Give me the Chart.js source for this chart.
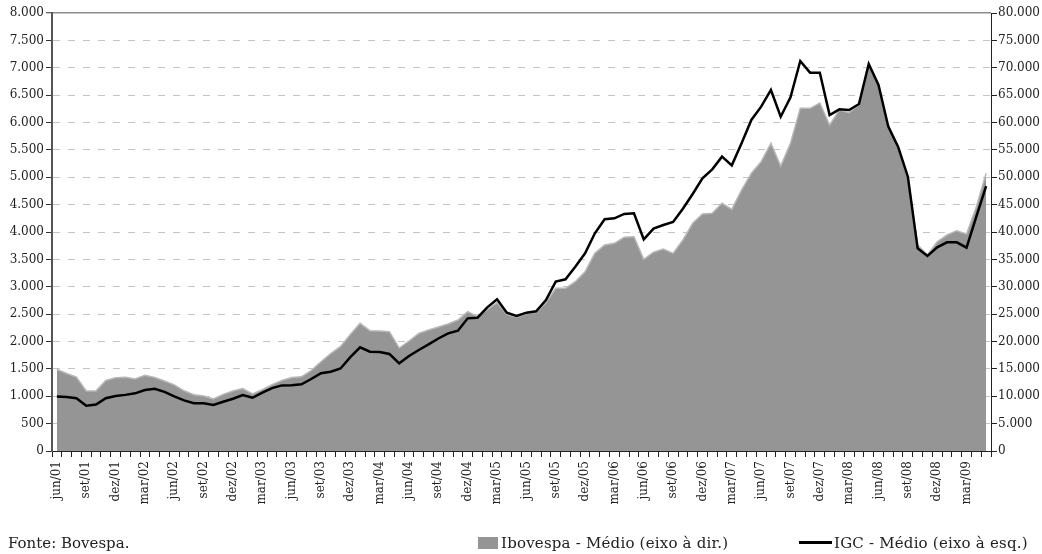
<!DOCTYPE html>
<html><head><meta charset="utf-8">
<script src="https://cdn.jsdelivr.net/npm/chart.js@4.4.1/dist/chart.umd.min.js"></script>
<style>
html,body{margin:0;padding:0;background:#fff;}
#wrap{position:relative;width:1042px;height:554px;overflow:hidden;}
canvas{position:absolute;left:0;top:0;}
.note{position:absolute;font-family:"DejaVu Serif";font-size:15px;color:#222;line-height:18px;white-space:nowrap;letter-spacing:0.2px;}
</style></head><body>
<div id="wrap">
<canvas id="c" width="1042" height="554"></canvas>
<div class="note" style="left:8px;top:534px;letter-spacing:0;">Fonte: Bovespa.</div>
<div class="note" style="left:478px;top:534px;"><span style="display:inline-block;width:20px;height:12px;background:#959595;vertical-align:-1px;margin-right:3px"></span>Ibovespa - Médio (eixo à dir.)</div>
<div class="note" style="left:799px;top:534px;"><span style="display:inline-block;width:33px;height:3px;background:#000;vertical-align:4px;margin-right:2px"></span>IGC - Médio (eixo à esq.)</div>
</div>
<script>
const categories = [
 'jun/01','jul/01','ago/01','set/01','out/01','nov/01','dez/01',
 'jan/02','fev/02','mar/02','abr/02','mai/02','jun/02','jul/02','ago/02','set/02','out/02','nov/02','dez/02',
 'jan/03','fev/03','mar/03','abr/03','mai/03','jun/03','jul/03','ago/03','set/03','out/03','nov/03','dez/03',
 'jan/04','fev/04','mar/04','abr/04','mai/04','jun/04','jul/04','ago/04','set/04','out/04','nov/04','dez/04',
 'jan/05','fev/05','mar/05','abr/05','mai/05','jun/05','jul/05','ago/05','set/05','out/05','nov/05','dez/05',
 'jan/06','fev/06','mar/06','abr/06','mai/06','jun/06','jul/06','ago/06','set/06','out/06','nov/06','dez/06',
 'jan/07','fev/07','mar/07','abr/07','mai/07','jun/07','jul/07','ago/07','set/07','out/07','nov/07','dez/07',
 'jan/08','fev/08','mar/08','abr/08','mai/08','jun/08','jul/08','ago/08','set/08','out/08','nov/08','dez/08',
 'jan/09','fev/09','mar/09','abr/09','mai/09'
];
const tickLabels = ['jun/01','set/01','dez/01','mar/02','jun/02','set/02','dez/02','mar/03','jun/03','set/03','dez/03',
 'mar/04','jun/04','set/04','dez/04','mar/05','jun/05','set/05','dez/05','mar/06','jun/06','set/06','dez/06',
 'mar/07','jun/07','set/07','dez/07','mar/08','jun/08','set/08','dez/08','mar/09'];
// IGC - Médio (left axis)
const igc = [
 995,985,965,828,848,965,1005,
 1025,1053,1114,1138,1080,998,925,872,870,842,900,955,
 1023,972,1065,1148,1198,1200,1218,1315,1422,1449,1507,1715,
 1894,1814,1808,1772,1601,1735,1845,1948,2055,2149,2198,2423,
 2435,2624,2770,2527,2466,2527,2551,2758,3093,3136,3367,3611,
 3976,4232,4250,4330,4341,3866,4061,4128,4183,4426,4694,4981,
 5145,5376,5218,5620,6046,6289,6594,6106,6460,7123,6910,6910,
 6137,6241,6228,6338,7068,6685,5924,5558,5010,3702,3562,3720,
 3812,3812,3714,4280,4840
];
// Ibovespa - Médio (right axis)
const ibovespa = [
 14900,14150,13500,10980,10980,12870,13360,
 13490,13150,13820,13420,12780,12080,11000,10290,10050,9500,10350,10960,
 11400,10410,11200,12120,12880,13420,13540,14700,16300,17800,19100,21280,
 23320,21980,21920,21800,18810,20090,21490,22100,22650,23200,23930,25450,
 24540,25800,27100,24970,24420,25100,25300,27090,29710,29710,30920,32750,
 36110,37630,37930,39030,39140,35000,36300,36900,36100,38540,41590,43290,
 43410,45240,44140,47670,50720,52840,56200,52050,56200,62590,62590,63550,
 59540,62280,61800,63200,70500,66700,59240,55580,50100,37630,35800,38230,
 39450,40240,39640,44620,50720
];
const fmt = v => String(v).replace(/\B(?=(\d{3})+(?!\d))/g, '.');
const FONT = {family: 'DejaVu Serif', size: 12};

new Chart(document.getElementById('c'), {
  type: 'line',
  data: {
    labels: categories,
    datasets: [
      {label: 'Ibovespa - Médio (eixo à dir.)', data: ibovespa, yAxisID: 'y2', order: 2,
       fill: 'origin', backgroundColor: '#959595', borderColor: '#b8b8b8', borderWidth: 1.5,
       pointRadius: 0, tension: 0},
      {label: 'IGC - Médio (eixo à esq.)', data: igc, yAxisID: 'y', order: 1,
       fill: false, borderColor: '#000', borderWidth: 2.5, pointRadius: 0, tension: 0,
       borderJoinStyle: 'miter'}
    ]
  },
  options: {
    responsive: false, animation: false, devicePixelRatio: 1,
    layout: {padding: {top: 13, left: 0, right: 0, bottom: 0}},
    plugins: {legend: {display: false}, tooltip: {enabled: false}},
    scales: {
      x: {
        type: 'category', offset: true,
        grid: {offset: true, drawOnChartArea: false, drawTicks: true, tickLength: 6, tickColor: '#222', tickWidth: 1},
        border: {color: '#222', width: 1},
        ticks: {autoSkip: false, minRotation: 90, maxRotation: 90, padding: 4, color: '#222', font: FONT,
          callback: function(v, i) { return tickLabels.includes(categories[i]) ? categories[i] : ''; }},
        afterFit: s => { s.height = 103; }
      },
      y: {
        position: 'left', min: 0, max: 8000,
        ticks: {stepSize: 500, padding: 2, color: '#222', font: FONT, callback: v => fmt(v)},
        grid: {
          color: c => c.tick && c.tick.value === 8000 ? '#8c8c8c' : (c.tick && c.tick.value === 0 ? 'rgba(0,0,0,0)' : '#c4c4c4'),
          lineWidth: c => c.tick && c.tick.value === 8000 ? 1.5 : 1,
          drawTicks: true, tickLength: 6, tickColor: '#333', tickWidth: 1
        },
        border: {color: '#555', width: 2, dash: c => c.tick && c.tick.value === 8000 ? [] : [7, 8]},
        afterFit: s => { s.width = 52; }
      },
      y2: {
        position: 'right', min: 0, max: 80000,
        ticks: {stepSize: 5000, padding: 1, color: '#222', font: FONT, callback: v => fmt(v)},
        grid: {drawOnChartArea: false, drawTicks: true, tickLength: 6, tickColor: '#222', tickWidth: 1},
        border: {color: '#222', width: 1},
        afterFit: s => { s.width = 51; }
      }
    }
  }
});
</script>
</body></html>
